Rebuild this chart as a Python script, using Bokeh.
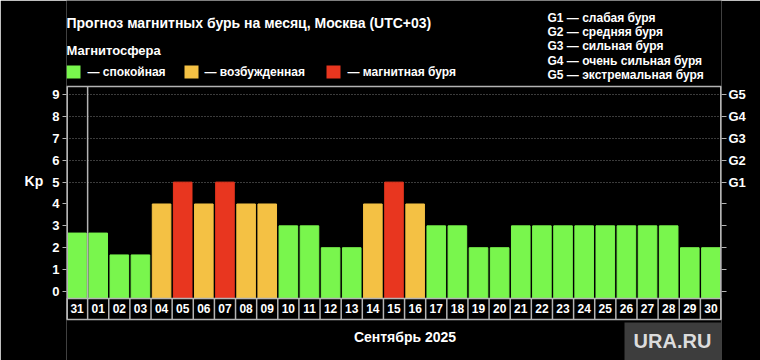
from bokeh.plotting import figure
from bokeh.models import (Range1d, LinearAxis, FixedTicker, Span, Label,
                          BoxAnnotation, ColumnDataSource)
from bokeh.core.properties import value
from bokeh.embed import file_html
from bokeh.resources import INLINE

# ---------------- data ----------------
days = ["31", "01", "02", "03", "04", "05", "06", "07", "08", "09", "10",
        "11", "12", "13", "14", "15", "16", "17", "18", "19", "20",
        "21", "22", "23", "24", "25", "26", "27", "28", "29", "30"]
kp = [2.67, 2.67, 1.67, 1.67, 4, 5, 4, 5, 4, 4, 3,
      3, 2, 2, 4, 5, 4, 3, 3, 2, 2,
      3, 3, 3, 3, 3, 3, 3, 3, 2, 2]
kp_ticks = [0, 1, 2, 3, 4, 5, 6, 7, 8, 9]
g_ticks = [5, 6, 7, 8, 9]
g_labels = ["G1", "G2", "G3", "G4", "G5"]
state_labels = ["— спокойная", "— возбужденная", "— магнитная буря"]
state_colors = ["#79F64D", "#F4C144", "#E8361F"]
g_descr = ["G1 — слабая буря", "G2 — средняя буря", "G3 — сильная буря",
           "G4 — очень сильная буря", "G5 — экстремальная буря"]
title_text = "Прогноз магнитных бурь на месяц, Москва (UTC+03)"
legend_title = "Магнитосфера"
x_title = "Сентябрь 2025"
y_title = "Kp"
watermark = "URA.RU"

# ---------------- layout ----------------
W, H = 760, 360
FL, FR = 66, 721                 # frame left / right (frame covers full height)
FONT = "Liberation Sans"
GRID = "#b4b4b4"
Y_MIN, Y_MAX = -3.16, 13.31      # full canvas height in Kp units
Y_TOP = 9.38                     # top border of the chart box
Y_BOT = -1.28                    # bottom border of the date row
BASE = -0.32                     # bottom of bars / top of the date row
LABEL_Y = -0.8                   # centre of date row


def state_of(v):
    if v >= 5:
        return 2
    if v >= 4:
        return 1
    return 0


n = len(days)
xs = [i + 0.5 for i in range(n)]
colors = [state_colors[state_of(v)] for v in kp]
src = ColumnDataSource(dict(x=xs, top=kp, day=days, color=colors))
edges = list(range(n + 1))

p = figure(width=W, height=H, output_backend="svg", toolbar_location=None,
           x_range=Range1d(0, n), y_range=Range1d(Y_MIN, Y_MAX),
           x_axis_location=None,
           min_border_left=FL, min_border_right=W - FR, min_border_top=0,
           min_border_bottom=0)
p.background_fill_color = "black"
p.border_fill_color = "black"
p.outline_line_color = None

# grid (dotted, G levels only)
p.xgrid.visible = False
p.ygrid.ticker = FixedTicker(ticks=g_ticks)
p.ygrid.grid_line_color = "#777777"
p.ygrid.grid_line_dash = "1 2"

# bars
p.vbar(x="x", top="top", bottom=BASE, width=0.88, color="color", source=src)

# date row: separators and labels
p.segment(x0=edges, x1=edges, y0=Y_BOT, y1=BASE, line_color=GRID, line_width=1.5)
p.text(x="x", y=LABEL_Y, text="day", source=src, text_color="white",
       text_font=value(FONT), text_font_style="bold", text_font_size="12px",
       text_align="center", text_baseline="middle")
# line separating the previous month
p.segment(x0=[1], x1=[1], y0=[BASE], y1=[Y_TOP], line_color=GRID, line_width=1.5)
# left and right borders of the box
p.segment(x0=[0, n], x1=[0, n], y0=[Y_BOT, Y_BOT], y1=[Y_TOP, Y_TOP],
          line_color=GRID, line_width=3)

# horizontal borders of the box
for loc in (Y_TOP, BASE, Y_BOT):
    p.add_layout(Span(location=loc, dimension="width", line_color=GRID, line_width=1.5))

# left axis
ya = p.yaxis[0]
ya.bounds = (Y_BOT, Y_TOP)
ya.ticker = FixedTicker(ticks=kp_ticks)
ya.axis_line_color = None
ya.major_tick_line_color = GRID
ya.major_tick_out = 4
ya.major_tick_in = 0
ya.minor_tick_line_color = None
ya.major_label_standoff = 3
ya.major_label_text_color = "white"
ya.major_label_text_font = FONT
ya.major_label_text_font_style = "bold"
ya.major_label_text_font_size = "13px"

# right axis (G scale)
ra = LinearAxis(ticker=FixedTicker(ticks=kp_ticks), bounds=(Y_BOT, Y_TOP))
ra.major_label_overrides = {t: (g_labels[g_ticks.index(t)] if t in g_ticks else "")
                            for t in kp_ticks}
ra.axis_line_color = None
ra.major_tick_line_color = GRID
ra.major_tick_out = 5
ra.major_tick_in = 0
ra.minor_tick_line_color = None
ra.major_label_standoff = 2
ra.major_label_text_color = "white"
ra.major_label_text_font = FONT
ra.major_label_text_font_style = "bold"
ra.major_label_text_font_size = "13px"
p.add_layout(ra, "right")

# y axis title, horizontal
ya.axis_label = y_title
ya.axis_label_orientation = "horizontal"
ya.axis_label_standoff = 6
ya.axis_label_text_color = "white"
ya.axis_label_text_font = FONT
ya.axis_label_text_font_style = "bold"
ya.axis_label_text_font_size = "14px"


# ---------------- texts & boxes (screen units relative to frame bottom-left) ----------------
def label(x, y_top, text, size, align="left", color="white"):
    p.add_layout(Label(x=x - FL, y=H - y_top, x_units="screen", y_units="screen",
                       text=text, text_color=color, text_font=FONT,
                       text_font_style="bold", text_font_size=size,
                       text_align=align, text_baseline="middle"))


def box(left, top, right, bottom, color):
    p.add_layout(BoxAnnotation(left=left - FL, right=right - FL, top=H - top,
                               bottom=H - bottom,
                               left_units="screen", right_units="screen",
                               top_units="screen", bottom_units="screen",
                               fill_color=color, fill_alpha=1, line_color=None))


label(66, 22, title_text, "14px")
label(66, 50, legend_title, "13px")
sq_x = [66, 184, 326]
tx_x = [87, 204, 347]
for i in range(3):
    box(sq_x[i], 65, sq_x[i] + 14, 78, state_colors[i])
    label(tx_x[i], 71, state_labels[i], "12px")
for i, t in enumerate(g_descr):
    label(547, 17.3 + 14.3 * i, t, "12px")
label(404.5, 336, x_title, "14px", align="center")

# watermark
box(624, 322, 760, 360, "#3d3d3d")
label(672, 340, watermark, "20px", align="center", color="#dcdcdc")

open("out.html", "w").write(file_html(p, INLINE))
